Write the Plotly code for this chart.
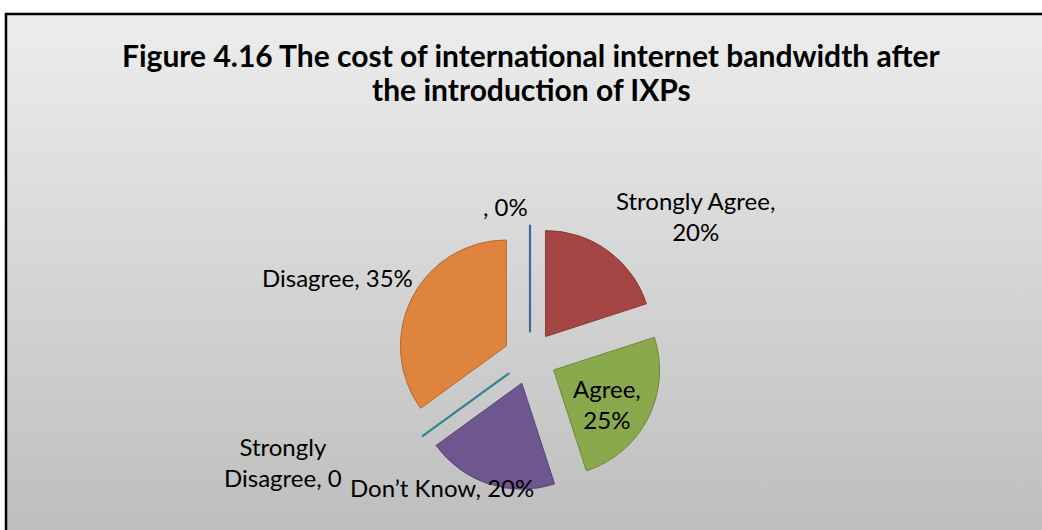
import base64
import plotly.graph_objects as go

# ---- data ----
categories = ["", "Strongly Agree", "Agree", "Don\u2019t Know", "Strongly Disagree", "Disagree"]
values = [0, 20, 25, 20, 0, 35]
label_texts = [", 0%", "Strongly Agree,<br>20%", "Agree,<br>25%",
               "Don\u2019t Know, 20%", "Strongly<br>Disagree, 0", "Disagree, 35%"]
title_lines = ["Figure 4.16 The cost of international internet bandwidth after",
               "the introduction of IXPs"]

# ---- styles ----
W, H = 1042, 530
fill_colors = ["#3C6A9B", "#A64644", "#8AA84C", "#6E568F", "#2E8494", "#DE843F"]
line_colors = ["#3C6A9B", "#8A3734", "#6F883A", "#574476", "#2E8494", "#B56A2E"]
line_widths = [2.2, 1, 1, 1, 2.2, 1]
# label centres in pixels (x, y from top)
label_pos = [(505, 206), (695, 216), (607, 404), (442, 487), (283, 462), (337, 277)]
title_pos = [(531.5, 55), (531.5, 89)]

EPS = 1e-7  # zero-valued slices drawn as hairline wedges
plot_vals = [v if v > 0 else EPS for v in values]

cx, cy, r, pull = 530, 358, 106, 0.25
half = r * (1 + pull)

fig = go.Figure(go.Pie(
    labels=categories,
    values=plot_vals,
    sort=False,
    direction="clockwise",
    rotation=0,
    pull=[pull] * len(values),
    marker=dict(colors=fill_colors, line=dict(color=line_colors, width=line_widths)),
    textinfo="none",
    hoverinfo="skip",
    showlegend=False,
    domain=dict(x=[(cx - half) / W, (cx + half) / W],
                y=[1 - (cy + half) / H, 1 - (cy - half) / H]),
))

# gradient background as an SVG image
svg = ('<svg xmlns="http://www.w3.org/2000/svg" width="100" height="100" preserveAspectRatio="none">'
       '<defs><linearGradient id="g" x1="0" y1="0" x2="0" y2="1">'
       '<stop offset="0" stop-color="#EDEDED"/><stop offset="1" stop-color="#BDBDBD"/>'
       '</linearGradient></defs><rect width="100" height="100" fill="url(#g)"/></svg>')
src = "data:image/svg+xml;base64," + base64.b64encode(svg.encode()).decode()
bx0, by0 = 6, 14
fig.add_layout_image(dict(source=src, xref="paper", yref="paper",
                          x=bx0 / W, y=1 - by0 / H, sizex=1.0, sizey=1 - by0 / H + 0.02,
                          xanchor="left", yanchor="top", sizing="stretch", layer="below"))
fig.add_shape(type="rect", xref="paper", yref="paper",
              x0=bx0 / W, x1=1.05, y0=-0.05, y1=1 - by0 / H,
              line=dict(color="#000000", width=2.5), fillcolor="rgba(0,0,0,0)", layer="above")

for txt, (px, py) in zip(label_texts, label_pos):
    fig.add_annotation(text=txt, x=px / W, y=1 - py / H, xref="paper", yref="paper",
                       xanchor="center", yanchor="middle", showarrow=False, align="center",
                       font=dict(family="Lato", size=24, color="#000000"))

for txt, (px, py) in zip(title_lines, title_pos):
    fig.add_annotation(text="<b>" + txt + "</b>", x=px / W, y=1 - py / H,
                       xref="paper", yref="paper", xanchor="center", yanchor="middle",
                       showarrow=False, align="center",
                       font=dict(family="Lato", size=30, color="#000000"))

fig.update_layout(width=W, height=H, margin=dict(l=0, r=0, t=0, b=0),
                  paper_bgcolor="#FFFFFF", plot_bgcolor="rgba(0,0,0,0)")

fig.write_html("out.html", config={"displayModeBar": False},
               post_script="document.body.style.margin='0';document.body.style.overflow='hidden';")
